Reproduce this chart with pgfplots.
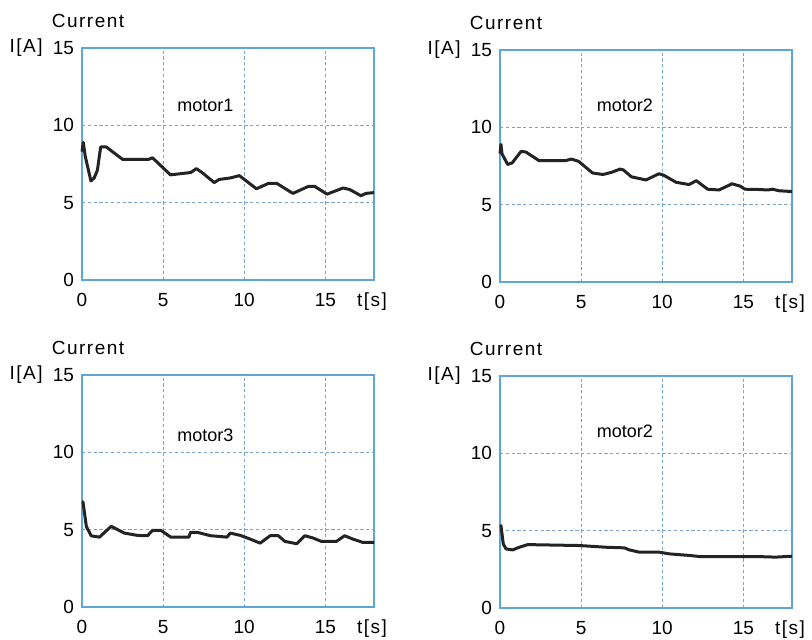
\documentclass[border=0pt]{standalone}
\usepackage{fontspec}
\setmainfont{Liberation Sans}
\newfontfamily\spaced[LetterSpace=8]{Liberation Sans}
\usepackage{pgfplots}
\pgfplotsset{compat=1.18}

\definecolor{framec}{RGB}{95,165,215}
\definecolor{gridc}{RGB}{120,165,205}
\definecolor{curvec}{RGB}{35,35,35}

\pgfplotsset{motor/.style={
    scale only axis, width=146pt, height=116pt,
    xmin=0, xmax=18, ymin=0, ymax=15,
    xtick={0,5,10,15}, ytick={0,5,10,15},
    grid=major,
    major grid style={gridc, line width=0.5pt, dash pattern=on 1.6pt off 1.3pt},
    axis line style={framec, line width=1pt},
    major tick length=0pt,
    clip=false,
    tick label style={font=\fontsize{9.5}{11}\selectfont},
    /pgf/number format/assume math mode=true,
    xticklabel style={yshift=-3pt},
    yticklabel style={xshift=-0.5pt},
}}

\tikzset{lab/.style={font=\spaced\fontsize{9.5}{11}\selectfont, inner sep=0pt},
         curve/.style={curvec, line width=1.5pt, line join=round, no marks}}

% labels round each panel: motor name and its position (data units)
\newcommand\decor[3]{%
  \node[lab, anchor=center, xshift=3pt, yshift=13.5pt] at (rel axis cs:0,1) {Current};
  \node[lab, anchor=east, xshift=-19.5pt] at (rel axis cs:0,1) {I[A]};
  \node[lab, anchor=center, xshift=-1pt, yshift=-11pt] at (rel axis cs:1,0) {t[s]};
  \node[font=\fontsize{9}{11}\selectfont] at (axis cs:#2,#3) {#1};
}

\begin{document}
\begin{tikzpicture}
\useasboundingbox (0,0) rectangle (406pt,-319.5pt);

% motor1
\begin{axis}[motor, at={(41pt,-140pt)}, anchor=south west]
\addplot[curve] coordinates {
(0,8.3) (0.08,8.9) (0.2,8.0) (0.55,6.4) (0.75,6.6) (0.95,7.1) (1.15,8.6)
(1.5,8.6) (2.5,7.8) (4.1,7.8) (4.35,7.9) (5.45,6.8) (6.3,6.9) (6.7,6.95)
(7.05,7.2) (7.4,6.95) (8.15,6.3) (8.45,6.5) (9.15,6.6) (9.7,6.75) (10.75,5.9)
(11.5,6.25) (12.0,6.25) (13.0,5.6) (13.95,6.05) (14.35,6.05) (15.1,5.55)
(16.1,5.95) (16.5,5.85) (17.2,5.45) (17.5,5.6) (18,5.65)
};
\decor{motor1}{7.6}{11.3}
\end{axis}

% motor2 (top)
\begin{axis}[motor, at={(250pt,-141pt)}, anchor=south west]
\addplot[curve] coordinates {
(0,8.3) (0.06,8.9) (0.12,8.3) (0.47,7.6) (0.75,7.7) (1.3,8.45) (1.6,8.4)
(2.4,7.85) (4.05,7.85) (4.4,7.95) (4.85,7.8) (5.7,7.05) (6.35,6.95) (6.9,7.1)
(7.4,7.3) (7.6,7.25) (8.1,6.8) (9.0,6.6) (9.8,7.0) (10.1,6.9) (10.85,6.45)
(11.65,6.3) (12.1,6.55) (12.8,6.0) (13.5,5.95) (14.3,6.35) (14.8,6.2)
(15.1,6.0) (16.0,5.98) (16.5,5.95) (16.8,6.0) (17.2,5.9) (18,5.85)
};
\decor{motor2}{7.7}{11.4}
\end{axis}

% motor3
\begin{axis}[motor, at={(41pt,-303.5pt)}, anchor=south west]
\addplot[curve] coordinates {
(0,6.8) (0.06,6.8) (0.27,5.2) (0.57,4.6) (1.08,4.52) (1.8,5.22) (2.61,4.78)
(3.43,4.63) (4.04,4.61) (4.35,4.96) (4.86,4.96) (5.47,4.52) (6.59,4.52)
(6.69,4.83) (7.1,4.83) (7.92,4.61) (8.94,4.52) (9.14,4.78) (9.76,4.63)
(10.37,4.39) (10.98,4.13) (11.6,4.61) (12.1,4.61) (12.51,4.24) (12.82,4.18)
(13.23,4.09) (13.74,4.61) (14.25,4.46) (14.76,4.24) (15.68,4.24) (16.19,4.61)
(16.7,4.39) (17.31,4.18) (18,4.18)
};
\decor{motor3}{7.6}{11.1}
\end{axis}

% motor2 (bottom)
\begin{axis}[motor, at={(250pt,-304pt)}, anchor=south west]
\addplot[curve] coordinates {
(0,5.3) (0.06,5.32) (0.2,4.15) (0.37,3.82) (0.78,3.76) (1.19,3.93) (1.71,4.1)
(4.9,4.04) (6.53,3.93) (7.67,3.89) (7.97,3.76) (8.59,3.61) (9.82,3.61)
(10.44,3.5) (11.67,3.4) (12.29,3.33) (14.14,3.33) (15.78,3.33) (17.0,3.29)
(18,3.35)
};
\decor{motor2}{7.7}{11.4}
\end{axis}
\end{tikzpicture}
\end{document}
